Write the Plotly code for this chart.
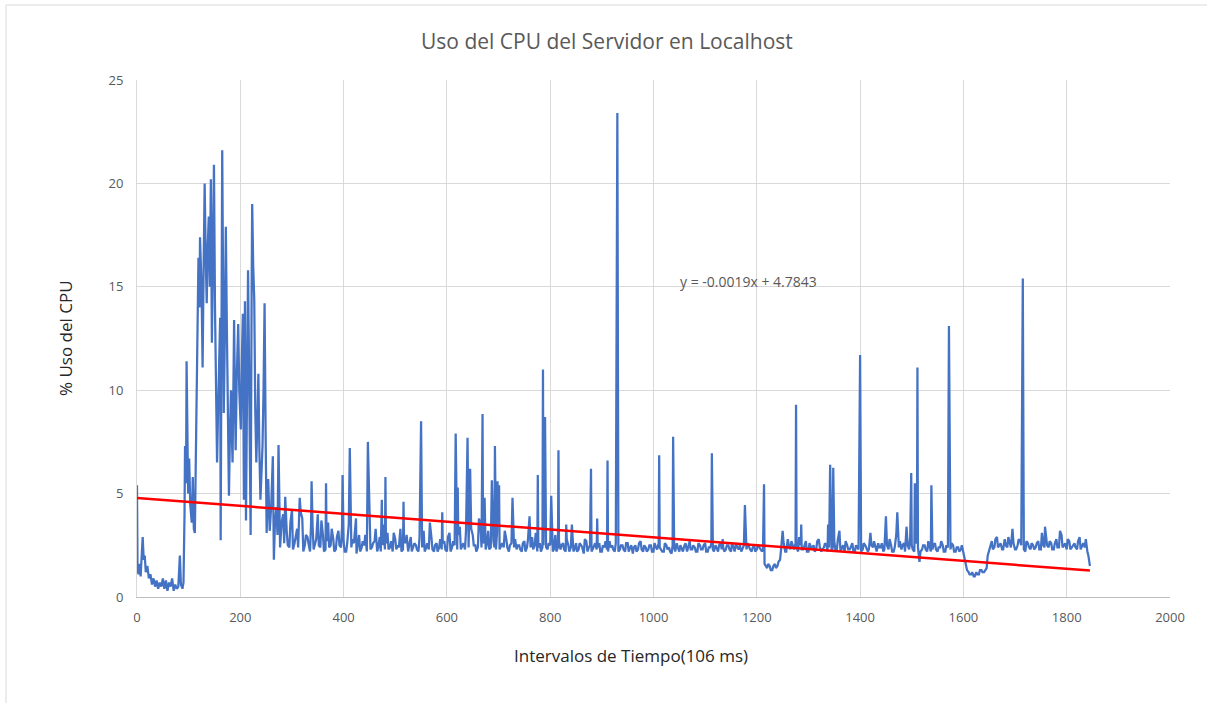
import plotly.graph_objects as go

# ---------------- data ----------------
title_text = "Uso del CPU del Servidor en Localhost"
x_title = "Intervalos de Tiempo(106 ms)"
y_title = "% Uso del CPU"
x_ticks = [0, 200, 400, 600, 800, 1000, 1200, 1400, 1600, 1800, 2000]
y_ticks = [0, 5, 10, 15, 20, 25]
trend_slope = -0.0019
trend_intercept = 4.7843
trend_label = "y = -0.0019x + 4.7843"

# early, detailed part of the series (intervals 0..287)
t_early = [0, 1, 3, 5, 7, 9, 11, 13, 15, 17, 20, 23, 26, 29, 32, 35, 38, 41, 44, 47,
           50, 53, 56, 59, 62, 65, 68, 71, 74, 77, 80, 83, 85, 88, 90, 92, 93, 95, 96, 99,
           101, 103, 106, 108, 110, 112, 115, 117, 119, 121, 122, 125, 127, 129, 131, 133, 135, 137, 139, 141,
           143, 145, 147, 149, 151, 153, 155, 157, 159, 161, 162, 163, 165, 167, 168, 170, 172, 174, 175, 177,
           178, 180, 182, 184, 185, 187, 188, 190, 191, 193, 196, 198, 201, 203, 205, 207, 209, 211, 213, 215,
           217, 219, 220, 222, 223, 225, 227, 229, 231, 233, 235, 237, 239, 241, 243, 245, 247, 249, 251, 254,
           257, 260, 263, 265, 267, 270, 272, 274, 277, 280, 283, 285, 287]
cpu_early = [5.4, 1.3, 1.1, 1.6, 1.0, 2.2, 2.9, 1.8, 2.0, 1.2, 1.5, 0.9, 1.1, 0.6, 0.9, 0.5, 0.8, 0.4, 0.7, 0.5,
             0.9, 0.4, 0.8, 0.3, 0.7, 0.5, 0.9, 0.3, 0.6, 0.4, 0.5, 2.0, 0.6, 0.4, 0.7, 4.0, 7.3, 5.5, 11.4, 5.0,
             6.7, 4.5, 3.6, 5.8, 3.3, 3.1, 8.2, 11.0, 16.4, 14.0, 17.4, 15.0, 11.1, 16.0, 20.0, 16.5, 14.2, 17.0, 18.4, 15.0,
             20.2, 12.3, 17.5, 20.9, 14.0, 8.7, 6.5, 9.0, 11.5, 13.5, 2.75, 10.0, 21.6, 14.0, 8.9, 12.5, 17.9, 13.0, 10.3, 6.0,
             4.9, 8.0, 10.0, 7.5, 6.5, 11.0, 13.4, 9.0, 7.1, 10.5, 13.2, 10.0, 8.1, 11.5, 13.7, 4.7, 14.3, 3.7, 12.0, 15.8,
             11.0, 7.4, 3.0, 15.0, 19.0, 16.0, 14.4, 9.0, 6.5, 8.5, 10.8, 7.0, 4.7, 6.0, 7.3, 10.0, 14.2, 8.0, 3.1, 5.7,
             3.2, 4.5, 6.8, 1.8, 3.5, 4.35, 3.0, 7.35, 2.4, 3.6, 4.0, 2.6, 4.85]

# baseline readings, every 5 intervals from 290 to 1845
base_a_start = 290
base_step = 5
cpu_base_a = [
    3.1, 2.4, 4.2, 2.6, 3.3, 2.3, 3.8, 2.5, 2.9, 2.2,
    3.4, 2.6, 4.0, 2.4, 3.0, 2.3, 3.6, 2.5, 2.8, 2.3,
    3.2, 2.4, 2.7, 2.2, 3.5, 2.4, 2.6, 2.1, 3.0, 2.4,
    2.5, 2.2, 3.6, 2.4, 2.7, 2.2, 2.9, 2.5, 2.3, 3.1,
    2.4, 2.2, 2.8, 2.5, 3.3, 2.3, 2.6, 2.2, 2.9, 2.4,
    2.5, 2.2, 2.7, 3.2, 2.4, 2.3, 2.9, 2.2, 2.6, 2.4,
    2.3, 2.7, 2.2, 3.1, 2.4, 2.5, 2.3, 3.4, 2.5, 2.3,
    2.6, 2.2, 3.0, 2.5, 2.4, 3.5, 2.6, 2.3, 3.2, 2.4,
    2.7, 2.3, 3.6, 2.5, 2.4, 2.8, 2.2, 2.6, 2.4, 2.3,
    2.5, 2.2, 2.7, 2.4, 2.3, 2.9, 2.5, 2.2, 2.6, 2.4,
    2.8, 2.3, 2.5, 2.2, 3.0, 2.4, 2.3, 2.6, 2.2, 2.5,
    2.4, 2.2, 2.6, 2.3, 2.5, 2.1, 2.7, 2.4, 2.2, 2.5,
    2.3, 2.6, 2.2, 2.4, 2.3, 2.7, 2.5, 2.2, 2.4, 2.3,
    2.5, 2.2, 2.6, 2.4, 2.1, 2.5, 2.3, 2.7, 2.2, 2.4,
    2.3, 2.5, 2.2, 2.4, 2.6, 2.3, 2.2, 2.5, 2.4, 2.1,
    2.4, 2.6, 2.2, 2.3, 2.5, 2.2, 2.7, 2.3, 2.4, 2.2,
    2.5, 2.3, 2.6, 2.2, 2.4, 2.3, 2.5, 2.2, 2.6, 2.4,
    2.3, 2.5, 2.2, 2.4, 2.6, 2.3, 2.2, 2.5, 2.3, 2.4,
    2.2, 2.5, 2.3, 2.4, 2.2, 1.6, 1.4, 1.5, 1.3, 1.6,
    1.5, 1.8, 2.5, 2.2, 2.8, 2.3, 2.4, 2.6, 2.2, 2.5,
    2.3, 2.7, 2.2, 2.4, 2.5, 2.3, 2.8, 2.2, 2.4, 2.5,
    2.4, 2.2, 2.7, 2.3, 3.2, 2.4, 2.2, 2.5, 2.3, 2.6,
    2.2, 2.4, 2.7, 2.3, 2.5, 2.2, 3.1, 2.4, 2.3, 2.6,
    2.4, 2.2, 2.9, 2.3, 2.5, 2.2, 3.0, 2.4, 2.3, 2.6,
    3.4, 2.3, 2.5, 2.2, 2.7, 1.7, 2.3, 2.5, 2.2, 2.4,
    2.3, 2.6, 2.2, 2.4, 2.5, 2.2, 2.4, 2.3, 2.5, 2.2,
    2.4, 2.3, 2.1, 1.5, 1.2, 1.1, 1.0, 1.2, 1.1, 1.3,
    1.2, 1.4, 2.3, 2.7, 2.4, 2.9, 2.5, 2.3, 2.8, 2.4,
    2.6, 3.3, 2.3, 2.5, 2.7, 2.4, 2.2, 2.6, 2.3, 2.5,
    2.4, 2.7, 2.3, 2.5, 2.9, 2.4, 2.6, 2.3, 2.8, 2.4,
    3.0, 2.5, 2.3, 2.7, 2.4, 2.6, 2.3, 2.9, 2.5, 2.4,
    2.2, 1.5,
]

# interleaved baseline readings, every 5 intervals from 292 to 1842
base_b_start = 292
cpu_base_b = [
    2.5, 3.6, 2.3, 2.9, 2.4, 4.1, 2.2, 3.0, 2.6, 3.5,
    2.3, 2.8, 2.5, 3.7, 2.2, 2.7, 2.4, 3.3, 2.2, 2.9,
    2.5, 3.4, 2.2, 2.6, 2.3, 2.8, 3.2, 2.4, 2.2, 2.7,
    3.0, 2.4, 2.3, 2.6, 3.3, 2.4, 2.2, 3.5, 2.6, 2.3,
    2.7, 3.1, 2.3, 2.4, 2.2, 2.8, 3.0, 2.5, 2.2, 2.6,
    2.3, 2.9, 2.4, 2.2, 2.6, 3.4, 2.3, 2.5, 2.2, 2.8,
    2.6, 2.3, 2.9, 2.2, 2.7, 2.4, 3.0, 2.3, 2.6, 3.2,
    2.4, 3.3, 2.5, 2.2, 3.8, 2.4, 2.7, 2.5, 2.3, 3.0,
    2.4, 3.1, 2.3, 2.6, 3.2, 2.4, 2.5, 2.2, 2.8, 2.5,
    2.3, 2.6, 2.2, 2.8, 2.4, 2.3, 3.1, 2.4, 2.2, 2.5,
    2.4, 2.6, 2.9, 2.3, 2.2, 2.7, 2.5, 2.3, 2.8, 2.2,
    2.5, 2.3, 2.2, 2.6, 2.4, 2.8, 2.2, 2.5, 2.3, 2.6,
    2.4, 2.2, 2.5, 2.7, 2.2, 2.4, 2.3, 2.6, 2.2, 2.5,
    2.3, 2.6, 2.2, 2.5, 2.4, 2.2, 2.6, 2.3, 2.5, 2.2,
    2.5, 2.2, 2.6, 2.3, 2.4, 2.2, 2.6, 2.3, 2.2, 2.5,
    2.2, 2.4, 2.5, 2.2, 2.6, 2.4, 2.3, 2.5, 2.2, 2.6,
    2.3, 2.5, 2.2, 2.4, 2.6, 2.2, 2.4, 2.5, 2.3, 2.2,
    2.5, 2.3, 2.6, 2.2, 2.4, 2.5, 2.3, 2.2, 2.6, 2.3,
    2.4, 2.2, 2.5, 2.3, 2.3, 1.5, 1.6, 1.3, 1.5, 1.4,
    1.7, 2.3, 2.6, 2.2, 2.5, 2.7, 2.3, 2.4, 2.9, 2.3,
    2.5, 2.2, 2.6, 2.4, 2.2, 2.7, 2.4, 2.3, 2.6, 2.2,
    2.6, 2.4, 2.3, 2.8, 2.2, 2.5, 2.7, 2.3, 2.4, 2.2,
    2.5, 2.3, 2.2, 2.6, 2.4, 2.3, 2.5, 2.7, 2.2, 2.4,
    2.6, 2.3, 2.5, 2.8, 2.2, 2.4, 2.3, 2.7, 2.5, 2.2,
    2.5, 2.9, 2.3, 2.6, 2.4, 2.2, 2.5, 2.3, 2.7, 2.2,
    2.5, 2.3, 2.4, 2.7, 2.2, 2.5, 2.3, 2.6, 2.2, 2.4,
    2.2, 2.5, 1.9, 1.3, 1.1, 1.2, 1.0, 1.1, 1.3, 1.2,
    1.3, 2.0, 2.5, 2.3, 2.8, 2.4, 2.6, 2.3, 2.5, 2.9,
    2.4, 2.6, 2.3, 2.8, 2.5, 2.3, 2.7, 2.4, 2.6, 2.3,
    2.6, 2.3, 3.1, 2.4, 2.5, 2.7, 2.3, 2.6, 2.4, 3.2,
    2.4, 2.6, 2.8, 2.3, 2.5, 2.4, 2.7, 2.3, 2.6, 2.8,
    2.0,
]

# isolated peaks after interval 290
spike_t = [315, 338, 366, 398, 412, 424, 447, 474, 481, 516, 550, 567, 591, 617, 621, 640, 645,
           669, 673, 687, 693, 698, 701, 727, 760, 776, 786, 790, 802, 816, 831, 842, 879, 891,
           911, 930, 1011, 1038, 1113, 1134, 1177, 1214, 1250, 1276, 1286, 1338, 1342, 1348,
           1400, 1450, 1472, 1499, 1506, 1511, 1538, 1572, 1715, 1758]
spike_v = [4.8, 5.6, 5.5, 5.9, 7.2, 3.8, 7.5, 4.7, 5.8, 4.6, 8.5, 3.6, 4.1, 7.9, 5.3, 7.7, 6.2,
           8.85, 4.8, 5.65, 7.3, 5.6, 5.4, 4.8, 3.9, 5.9, 11.0, 8.7, 4.9, 7.1, 3.5, 3.5, 6.2, 3.8,
           6.6, 23.4, 6.85, 7.75, 6.95, 2.8, 4.45, 5.45, 3.2, 9.3, 3.5, 3.5, 6.4, 6.25,
           11.7, 3.9, 4.1, 6.0, 5.5, 11.1, 5.4, 13.1, 15.4, 3.4]

# ---------------- assemble series ----------------
series = {}
for t, v in zip(t_early, cpu_early):
    series[t] = v
for i, v in enumerate(cpu_base_a):
    series[base_a_start + i * base_step] = v
for i, v in enumerate(cpu_base_b):
    series[base_b_start + i * base_step] = v
for t, v in zip(spike_t, spike_v):
    series[t] = v
xs = sorted(series)
ys = [series[t] for t in xs]

trend_x = [xs[0], xs[-1]]
trend_y = [trend_intercept + trend_slope * t for t in trend_x]

# ---------------- figure ----------------
FONT = "Open Sans"
GRAY = "#595959"

fig = go.Figure()
fig.add_trace(go.Scatter(x=xs, y=ys, mode="lines",
                         line=dict(color="#4472C4", width=2.25), hoverinfo="skip",
                         showlegend=False))
fig.add_trace(go.Scatter(x=trend_x, y=trend_y, mode="lines",
                         line=dict(color="#FF0000", width=2.5), hoverinfo="skip",
                         showlegend=False))

L, R, T, B = 137, 37, 80, 106
W, H = 1207, 703
pw, ph = W - L - R, H - T - B


def px(xp):
    return (xp - L) / pw


def py(yp):
    return (H - B - yp) / ph


fig.update_layout(
    width=W, height=H,
    margin=dict(l=L, r=R, t=T, b=B, autoexpand=False),
    paper_bgcolor="white", plot_bgcolor="white",
    font=dict(family=FONT, color=GRAY, size=13),
    xaxis=dict(range=[0, 2000], tickvals=x_ticks, showgrid=True, gridcolor="#d9d9d9",
               gridwidth=1, zeroline=False, showline=True, linecolor="#bfbfbf", linewidth=1,
               ticks="", tickfont=dict(size=13, color=GRAY, family=FONT), ticklabelstandoff=8),
    yaxis=dict(range=[0, 25], tickvals=y_ticks, showgrid=True, gridcolor="#d9d9d9",
               gridwidth=1, zeroline=False, showline=True, linecolor="#d9d9d9", linewidth=1,
               ticks="", tickfont=dict(size=13, color=GRAY, family=FONT), ticklabelstandoff=10),
    showlegend=False,
)

fig.add_annotation(text=title_text, xref="paper", yref="paper", x=px(607), y=py(41),
                   showarrow=False, xanchor="center", yanchor="middle",
                   font=dict(size=21, color=GRAY, family=FONT))
fig.add_annotation(text=x_title, xref="paper", yref="paper", x=px(631), y=py(655),
                   showarrow=False, xanchor="center", yanchor="middle",
                   font=dict(size=17, color="#262626", family=FONT))
fig.add_annotation(text=y_title, xref="paper", yref="paper", x=px(65), y=py(338),
                   showarrow=False, xanchor="center", yanchor="middle", textangle=-90,
                   font=dict(size=17, color="#262626", family=FONT))
fig.add_annotation(text=trend_label, xref="x", yref="y", x=1047, y=15.28,
                   showarrow=False, xanchor="left", yanchor="middle",
                   font=dict(size=14, color=GRAY, family=FONT))

# outer chart frame
fig.add_shape(type="rect", xref="paper", yref="paper",
              x0=px(6), y0=py(712), x1=px(1215), y1=py(5),
              line=dict(color="#d9d9d9", width=1), fillcolor="rgba(0,0,0,0)", layer="below")

fig.write_html("out.html", config={"displayModeBar": False},
               post_script="document.body.style.margin='0px';")
